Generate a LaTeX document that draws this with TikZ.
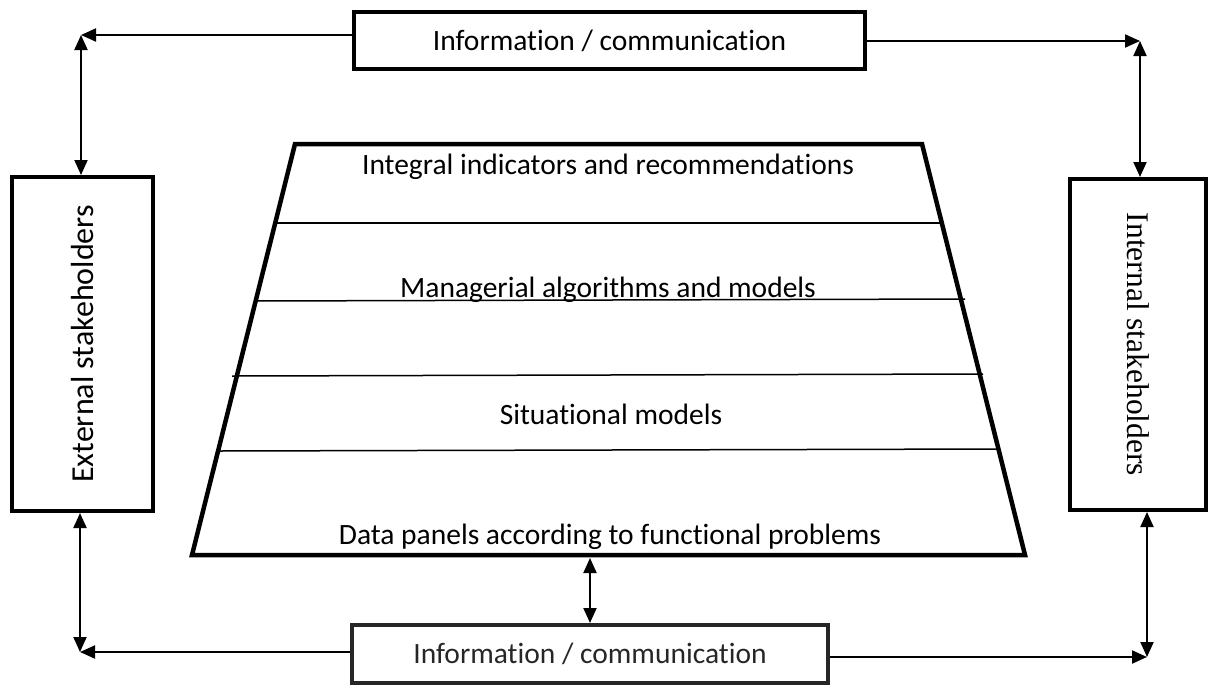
\documentclass[tikz,border=0pt]{standalone}
\usepackage{fontspec}
\setmainfont{Carlito}[Ligatures=NoCommon]
\newfontfamily\serifx{Liberation Serif}
\usetikzlibrary{arrows.meta,calc}
\begin{document}
\begin{tikzpicture}[x=1pt,y=-1pt,
  box/.style={draw, line width=4pt, inner sep=0pt},
  conn/.style={line width=2pt},
  tipone/.style={-{Triangle[length=15pt,width=13pt]}},
  tiptwo/.style={{Triangle[length=15pt,width=13pt]}-{Triangle[length=15pt,width=13pt]}},
  lbl/.style={font=\fontsize{29.5}{34}\selectfont, inner sep=0pt},
  sep/.style={line width=1.5pt}]
\useasboundingbox (0,0) rectangle (1212,686);

% boxes
\node[box, minimum width=511pt, minimum height=57pt] (top) at (609.5,40.5) {};
\node[lbl] (toptxt) at (top.center) {Information / communication};
\node[box, minimum width=141pt, minimum height=334pt] (ext) at (82.5,344) {};
\node[lbl, rotate=90, font=\fontsize{32}{36}\selectfont] (exttxt) at (ext.center) {External stakeholders};
\node[box, minimum width=136pt, minimum height=331pt] (int) at (1138,344.5) {};
\node[lbl, rotate=-90, font=\serifx\fontsize{31.5}{36}\selectfont] (inttxt) at (int.center) {Internal stakeholders};
\node[box, draw=black!85, minimum width=476pt, minimum height=58pt] (bot) at (590,654) {};
\node[lbl, text=black!85] (bottxt) at (bot.center) {Information / communication};

% trapezoid
\coordinate (t1) at (295,144);
\coordinate (t2) at (922,144);
\coordinate (t3) at (1025,555);
\coordinate (t4) at (192,555);
\draw[line width=4.5pt, line join=miter] (t1) -- (t2) -- (t3) -- (t4) -- cycle;
\draw[sep] (275,223) -- (942,223);
\draw[sep] (255,301) -- (965,299);
\draw[sep] (232,376) -- (983,374);
\draw[sep] (219,451) -- (998,449);
\node[lbl] (l1) at (608,167) {Integral indicators and recommendations};
\node[lbl] (l2) at (608,290) {Managerial algorithms and models};
\node[lbl] (l3) at (611,414) {Situational models};
\node[lbl] (l4) at (610,537) {Data panels according to functional problems};
\coordinate (tb) at (590,558);

% corner points
\coordinate (tl) at (81,35);
\coordinate (tr) at (1140,41);
\coordinate (bl) at (80,652);
\coordinate (br) at (1147,657);

% connectors
\draw[conn, tipone] (top.west |- tl) -- (tl);
\draw[conn, tiptwo] (tl) -- (tl |- ext.north);
\draw[conn, tipone] (top.east |- tr) -- (tr);
\draw[conn, tiptwo] (tr) -- (tr |- int.north);
\draw[conn, tipone] (bot.west |- bl) -- (bl);
\draw[conn, tiptwo] (bl |- ext.south) -- (bl);
\draw[conn, tipone] (bot.east |- br) -- (br);
\draw[conn, tiptwo] (br |- int.south) -- (br);
\draw[conn, tiptwo] (tb) -- (bot.north);
\end{tikzpicture}
\end{document}
